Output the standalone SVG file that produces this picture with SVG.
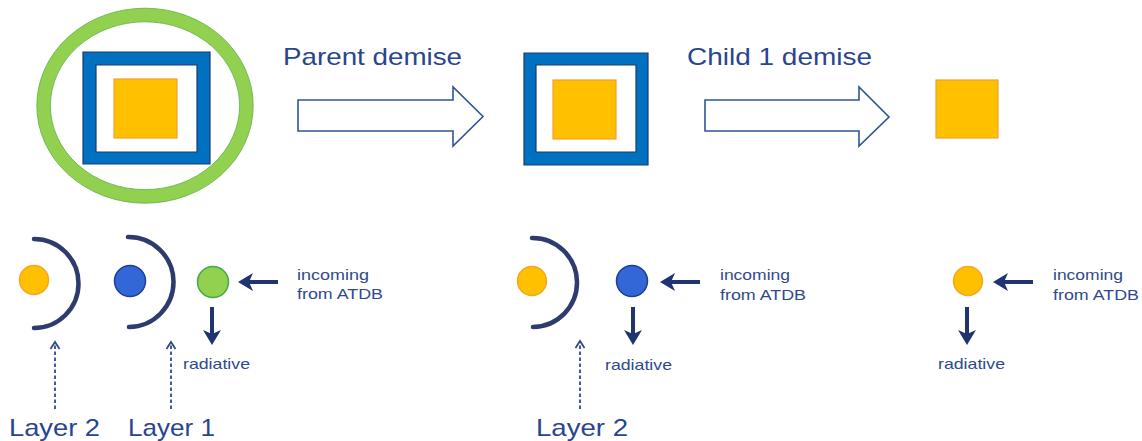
<svg xmlns="http://www.w3.org/2000/svg" width="1142" height="441" viewBox="0 0 1142 441">
<style>
.title{font-family:"Liberation Sans",Arial,sans-serif;font-size:24px;fill:#2A4590}
.small{font-family:"Liberation Sans",Arial,sans-serif;font-size:15px;fill:#2F4A8C}
.layer{font-family:"Liberation Sans",Arial,sans-serif;font-size:24px;fill:#2A4590}
.frame{fill:#0070C0;stroke:#1F3A6E;stroke-width:1.2;fill-rule:evenodd}
.core{fill:#FFC000;stroke:#F0A030;stroke-width:1.2}
.block{fill:#FFFFFF;stroke:#2F5597;stroke-width:1.6;stroke-linejoin:miter}
.shell{fill:none;stroke:#2E3B6E;stroke-width:4.5;stroke-linecap:round}
.flow{fill:none;stroke:#1F3470;stroke-width:4;marker-end:url(#head)}
.dash{fill:none;stroke:#2F4A8C;stroke-width:1.8;stroke-dasharray:3.5 2.5;marker-end:url(#chev)}
.dotO{fill:#FFC000;stroke:#F5A623;stroke-width:1.5}
.dotB{fill:#3366D6;stroke:#1F3F8F;stroke-width:1.5}
.dotG{fill:#92D050;stroke:#3EAA48;stroke-width:1.5}
</style>
<defs>
<marker id="head" markerUnits="userSpaceOnUse" markerWidth="16" markerHeight="18" viewBox="0 0 16 18" refX="4" refY="9" orient="auto">
<path d="M0,0 L15,9 L0,18 L4,9 Z" fill="#1F3470"/>
</marker>
<marker id="chev" markerUnits="userSpaceOnUse" markerWidth="12" markerHeight="12" viewBox="0 0 12 12" refX="10" refY="6" orient="auto">
<path d="M3,1.5 L10,6 L3,10.5" fill="none" stroke="#2F4A8C" stroke-width="1.8"/>
</marker>
</defs>

<g id="state1">
<ellipse cx="145" cy="105.7" rx="101.4" ry="90.7" fill="none" stroke="#92D050" stroke-width="13.5"/>
<ellipse cx="145" cy="105.7" rx="108.2" ry="97.5" fill="none" stroke="#5CB043" stroke-width="0.8"/>
<ellipse cx="145" cy="105.7" rx="94.6" ry="83.9" fill="none" stroke="#5CB043" stroke-width="0.8"/>
<path class="frame" d="M83,52 H210 V164 H83 Z M96,65 V152 H197 V65 Z"/>
<rect class="core" x="114" y="79" width="63" height="59"/>
</g>

<g id="state2">
<path class="frame" d="M524,53 H648 V165 H524 Z M536,65 V152 H636 V65 Z"/>
<rect class="core" x="553" y="80" width="63" height="59"/>
</g>

<g id="state3">
<rect class="core" x="936" y="80" width="62" height="58"/>
</g>

<g id="transitions">
<g id="arrow1">
<polygon class="block" points="298,100 453,100 453,87 483,116.5 453,146 453,131 298,131"/>
<text class="title" x="283" y="65" textLength="179" lengthAdjust="spacingAndGlyphs">Parent demise</text>
</g>
<g id="arrow2">
<polygon class="block" points="705,100 859,100 859,87 889,117 859,146 859,131 705,131"/>
<text class="title" x="687" y="65" textLength="185" lengthAdjust="spacingAndGlyphs">Child 1 demise</text>
</g>
</g>

<g id="panel1">
<circle class="dotO" cx="34" cy="280" r="14.5"/>
<path class="shell" d="M34,239 A44.5,44.5 0 0 1 34,328"/>
<circle class="dotB" cx="130" cy="281" r="15.5"/>
<path class="shell" d="M128,237 A45,45 0 0 1 129,327"/>
<circle class="dotG" cx="213" cy="282" r="15.5"/>
<text class="small" x="297" y="280" textLength="72" lengthAdjust="spacingAndGlyphs">incoming</text>
<text class="small" x="297" y="299" textLength="86" lengthAdjust="spacingAndGlyphs">from ATDB</text>
<text class="small" x="183" y="369" textLength="67" lengthAdjust="spacingAndGlyphs">radiative</text>
<text class="layer" x="9" y="436" textLength="91" lengthAdjust="spacingAndGlyphs">Layer 2</text>
<text class="layer" x="128" y="436" textLength="87" lengthAdjust="spacingAndGlyphs">Layer 1</text>
</g>

<g id="panel2">
<circle class="dotO" cx="532" cy="281" r="14.5"/>
<path class="shell" d="M532,238 A44.5,44.5 0 0 1 533,327"/>
<circle class="dotB" cx="632" cy="281" r="15.5"/>
<text class="small" x="720" y="280" textLength="70" lengthAdjust="spacingAndGlyphs">incoming</text>
<text class="small" x="720" y="300" textLength="86" lengthAdjust="spacingAndGlyphs">from ATDB</text>
<text class="small" x="605" y="370" textLength="67" lengthAdjust="spacingAndGlyphs">radiative</text>
<text class="layer" x="536" y="436" textLength="92" lengthAdjust="spacingAndGlyphs">Layer 2</text>
</g>

<g id="panel3">
<circle class="dotO" cx="968" cy="281" r="14.5"/>
<text class="small" x="1053" y="280" textLength="70" lengthAdjust="spacingAndGlyphs">incoming</text>
<text class="small" x="1053" y="300" textLength="86" lengthAdjust="spacingAndGlyphs">from ATDB</text>
<text class="small" x="938" y="369" textLength="67" lengthAdjust="spacingAndGlyphs">radiative</text>
</g>

<g id="connectors">
<line class="flow" x1="278" y1="282" x2="249" y2="282"/>
<line class="flow" x1="212" y1="307" x2="212" y2="334"/>
<line class="flow" x1="700" y1="282" x2="671" y2="282"/>
<line class="flow" x1="633" y1="307" x2="633" y2="334"/>
<line class="flow" x1="1033" y1="282" x2="1004" y2="282"/>
<line class="flow" x1="967" y1="307" x2="967" y2="334"/>
<line class="dash" x1="55" y1="409" x2="55" y2="342"/>
<line class="dash" x1="171" y1="409" x2="171" y2="342"/>
<line class="dash" x1="580" y1="409" x2="580" y2="341"/>
</g>
</svg>
